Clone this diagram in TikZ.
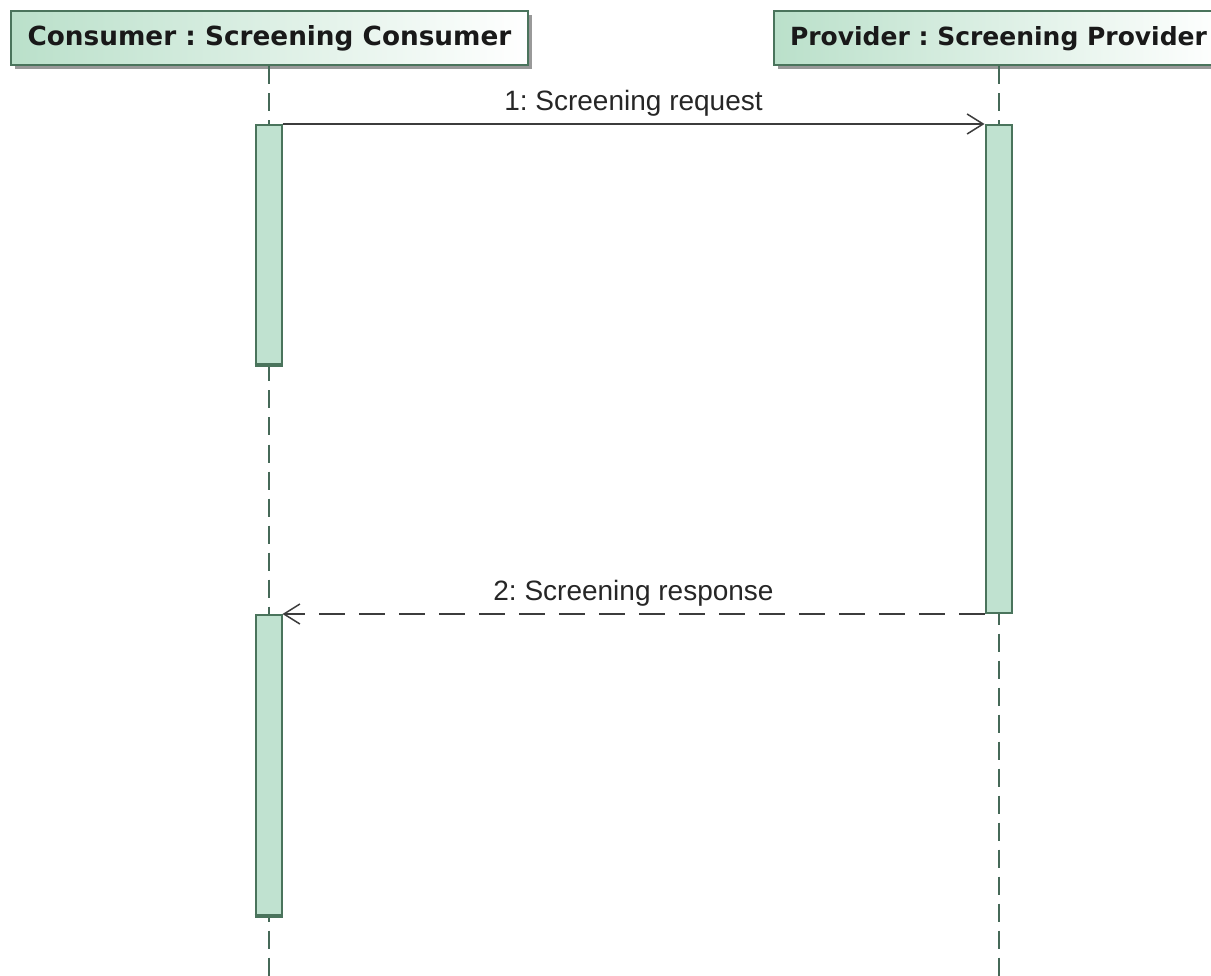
\documentclass[tikz,border=0pt]{standalone}
\usepackage{fontspec}
\setmainfont{Liberation Sans}
\newfontfamily\headfont{DejaVu Sans}
\usetikzlibrary{arrows.meta,shadows}
\definecolor{lgreen}{RGB}{192,226,208}
\definecolor{hgreen}{RGB}{186,224,202}
\definecolor{dgreen}{RGB}{74,116,92}
\definecolor{lifec}{RGB}{70,105,88}
\definecolor{msgc}{RGB}{60,60,60}
\frenchspacing
\begin{document}
\begin{tikzpicture}[x=1pt,y=-1pt,
 head/.style={draw=dgreen, line width=2pt, left color=hgreen, right color=white, minimum height=54pt, inner sep=0pt,
   font=\headfont\bfseries\fontsize{25.5}{30}\selectfont, text=black!90,
   drop shadow={shadow xshift=4pt,shadow yshift=-4pt,fill=black!40,opacity=1}},
 act/.style={draw=dgreen, fill=lgreen, line width=2pt, minimum width=26pt, inner sep=0pt},
 life/.style={draw=lifec, line width=2pt, dash pattern=on 18pt off 9pt},
 msg/.style={draw=msgc, line width=1.6pt, -{Straight Barb[length=16pt,width=20pt,line width=1.5pt]}},
 lbl/.style={font=\fontsize{28}{32}\selectfont, text=black!85, above, inner sep=7pt}]
\path[use as bounding box] (0,0) rectangle (1211,976);
\clip (0,0) rectangle (1211,976);
\node[head, minimum width=517pt, font=\headfont\bfseries\fontsize{26.3}{30}\selectfont] (cons) at (269.5,38.5) {Consumer : Screening Consumer};
\node[head, minimum width=450pt, font=\headfont\bfseries\fontsize{25}{30}\selectfont] (prov) at (998.5,38.5) {Provider : Screening Provider};
\coordinate (cend) at (268.5,976);
\coordinate (pend) at (998.5,976);
\draw[life] (cons.south -| cend) -- (cend);
\draw[life] (prov.south -| pend) -- (pend);
\node[act, minimum height=241pt] (ca1) at (268.5,245.5) {};
\node[act, minimum height=488pt] (pa) at (998.5,369) {};
\node[act, minimum height=301pt] (ca2) at (268.5,765.5) {};
\draw[dgreen, line width=4pt] ([yshift=1.5pt]ca1.south west) -- ([yshift=1.5pt]ca1.south east);
\draw[dgreen, line width=4pt] ([yshift=1.5pt]ca2.south west) -- ([yshift=1.5pt]ca2.south east);
\draw[msg] (ca1.north east) -- node[lbl] {1: Screening request} (pa.north west);
\draw[msg, dash pattern=on 26pt off 14pt] (pa.south west) -- node[lbl] {2: Screening response} (ca2.north east);
\end{tikzpicture}
\end{document}
